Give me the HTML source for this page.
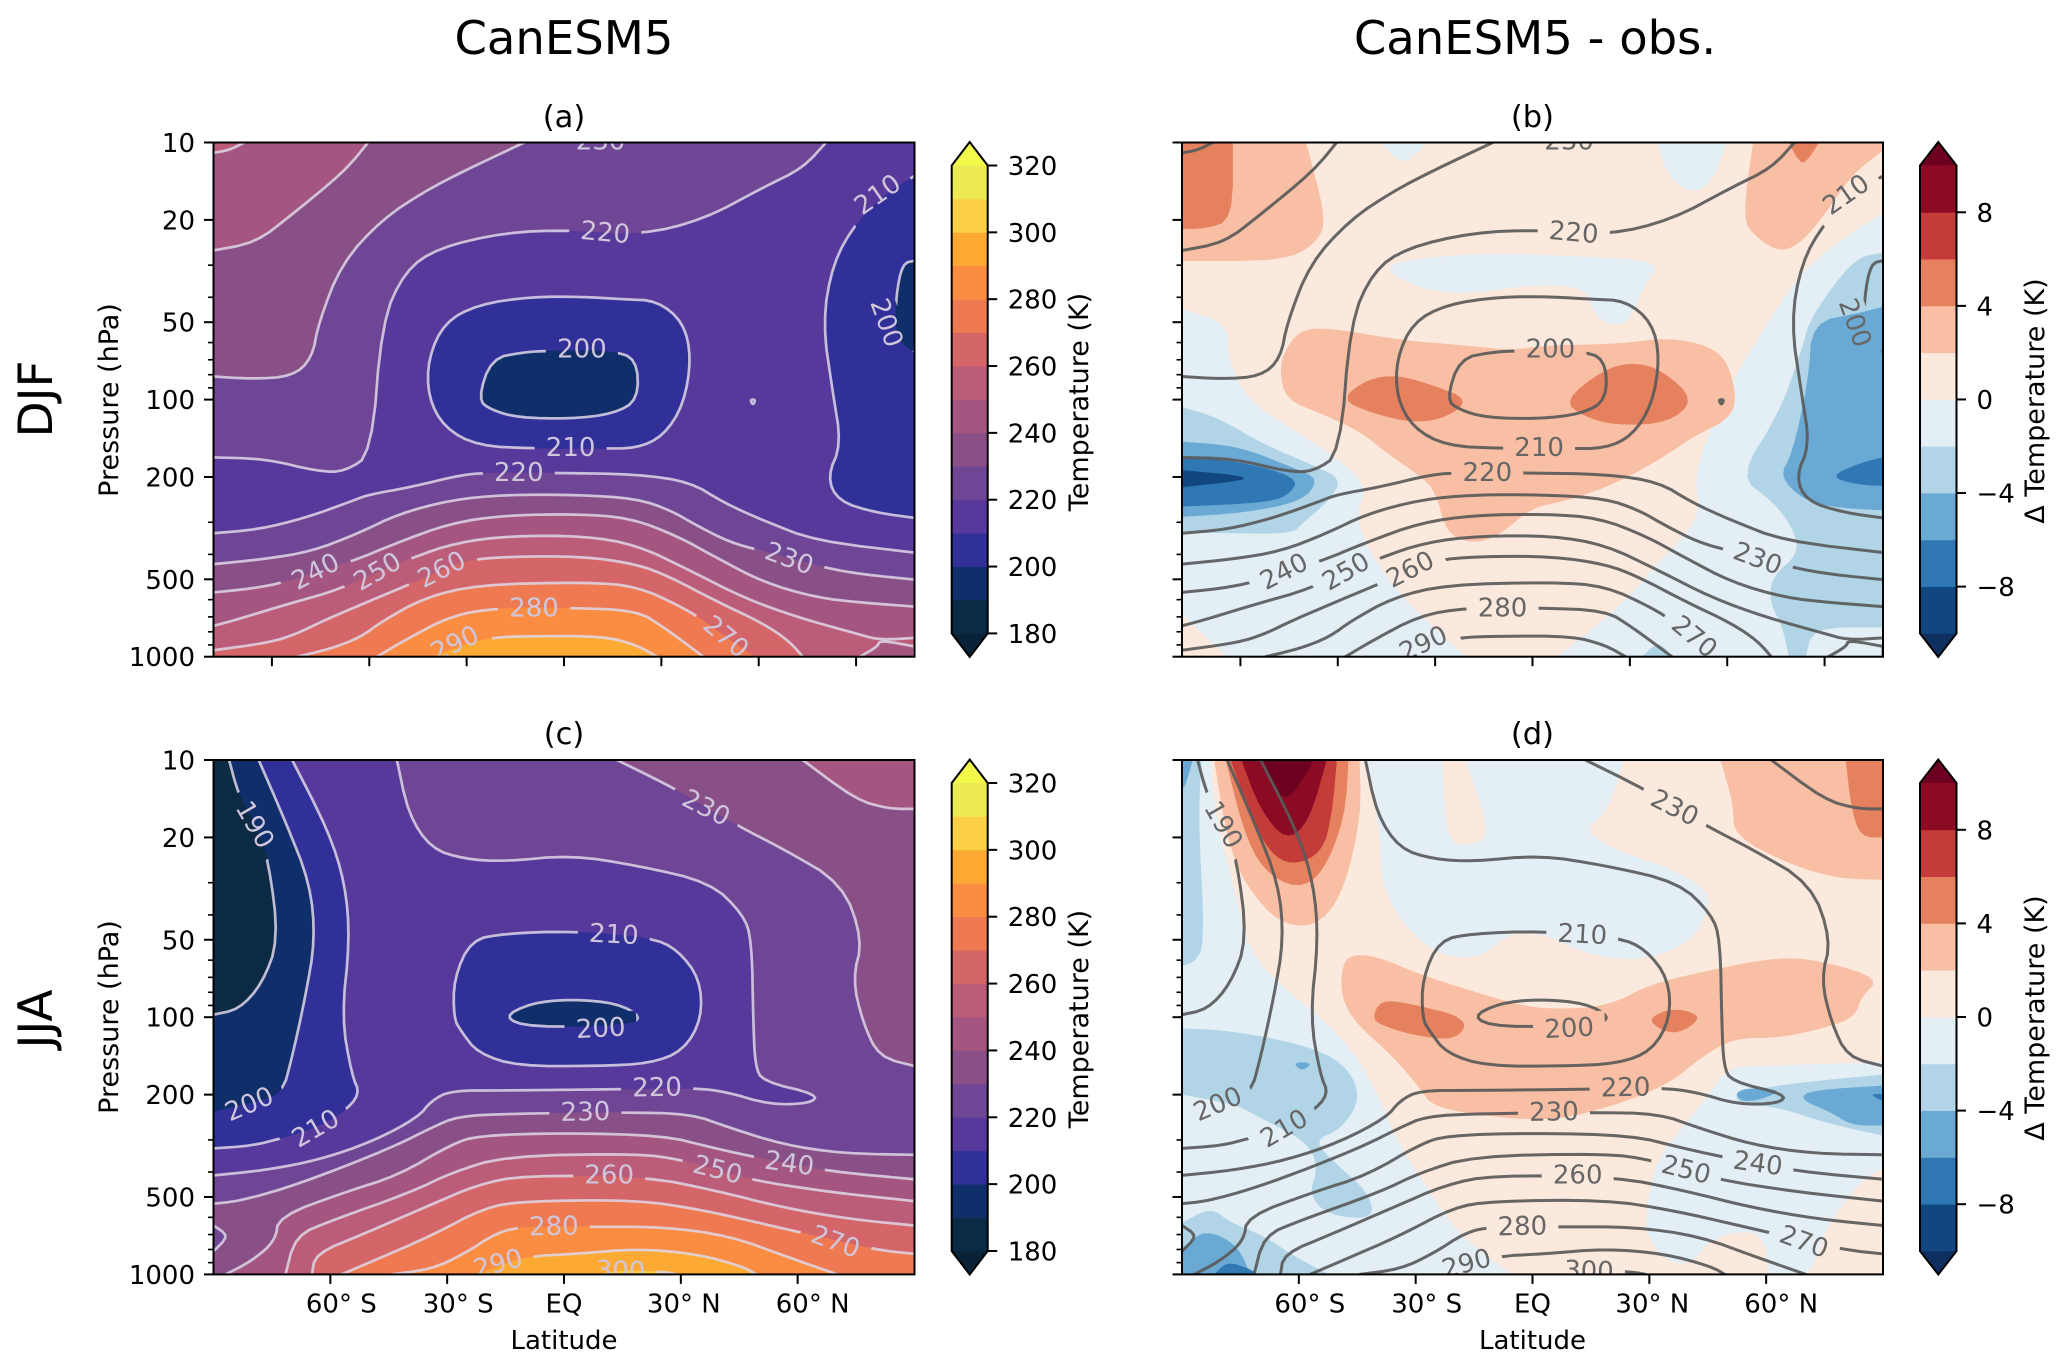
<!DOCTYPE html>
<html lang="en">
<head>
<meta charset="utf-8">
<title>CanESM5 zonal mean temperature</title>
<style>
html,body{margin:0;padding:0;background:#fff;}
svg{display:block;font-family:"DejaVu Sans","Liberation Sans",sans-serif;}
</style>
</head>
<body>
<svg id="figure" width="2067" height="1366" viewBox="0 0 2067 1366">
  <rect x="0" y="0" width="2067" height="1366" fill="#ffffff"/>
  <text x="564" y="54" font-size="46.5" text-anchor="middle">CanESM5</text>
  <text x="1535" y="54" font-size="46.5" text-anchor="middle">CanESM5 - obs.</text>
  <text transform="translate(52,399) rotate(-90)" font-size="47" text-anchor="middle">DJF</text>
  <text transform="translate(52,1019) rotate(-90)" font-size="47" text-anchor="middle">JJA</text>
  <text x="564" y="127" font-size="30.5" text-anchor="middle">(a)</text>
  <text x="1532.5" y="127" font-size="30.5" text-anchor="middle">(b)</text>
  <text x="564" y="744" font-size="30.5" text-anchor="middle">(c)</text>
  <text x="1532.5" y="744" font-size="30.5" text-anchor="middle">(d)</text>
  <text transform="translate(118,400) rotate(-90)" font-size="27" text-anchor="middle">Pressure (hPa)</text>
  <text transform="translate(118,1017) rotate(-90)" font-size="27" text-anchor="middle">Pressure (hPa)</text>
  <text x="564" y="1349" font-size="26" text-anchor="middle">Latitude</text>
  <text x="1532.5" y="1349" font-size="26" text-anchor="middle">Latitude</text>
  <text transform="translate(1088,402) rotate(-90)" font-size="27" text-anchor="middle">Temperature (K)</text>
  <text transform="translate(1088,1019) rotate(-90)" font-size="27" text-anchor="middle">Temperature (K)</text>
  <text transform="translate(2044,401) rotate(-90)" font-size="27" text-anchor="middle">Δ Temperature (K)</text>
  <text transform="translate(2044,1018) rotate(-90)" font-size="27" text-anchor="middle">Δ Temperature (K)</text>
</svg>
<script>
/* All contour and region vertices are [latitude in degrees, log10 of pressure in hPa]. */

/* ---------- colour scales ---------- */
const tempLevels=[180,190,200,210,220,230,240,250,260,270,280,290,300,310];
const tempColors=['#0c2a44','#102f6a','#312f98','#56399a','#6f4595','#895088','#a45680','#bb5d78','#d4666a','#ef7a52','#fb8d42','#fdaa35','#fbd044','#ecea52'];
const tempTicks=[180,200,220,240,260,280,300,320];
const anomalyLevels=[-10,-8,-6,-4,-2,0,2,4,6,8];
const anomalyColors=['#114781','#2f78b4','#6aa9d3','#b1d5e7','#e4eef5','#fbe9de','#f8bfa4','#e6815f','#c43c3a','#8b0a24'];
const anomalyTicks=[-8,-4,0,4,8];

/* ---------- axis ticks ---------- */
const pressureMajor=[10,20,50,100,200,500,1000];
const pressureMinor=[30,40,60,70,80,90,300,400,600,700,800,900];
const latTicksTop=[-75,-50,-25,0,25,50,75];
const latTicksBottom=[-60,-30,0,30,60];
const latTickLabels=['60° S','30° S','EQ','30° N','60° N'];
const latLabelNudge=[11,11,0,3,15];

/* ---------- DJF temperature contours ---------- */
const djfT250top=[[-90,1.04],[-86,1.03],[-82.1,1]];
const djfT240top=[[-50.3,1],[-56.2,1.11],[-69.8,1.28],[-79.2,1.39],[-90,1.42]];
const djfT230top=[[-90,1.91],[-80.1,1.92],[-69.8,1.91],[-64.7,1.84],[-63,1.70],[-57.1,1.47],[-46.8,1.30],[-35.8,1.19],[-25.6,1.11],[-10.2,1]];
const djfT220top=[[-90,2.225],[-76.7,2.23],[-63,2.28],[-56.2,2.28],[-49.4,2.21],[-46.8,1.70],[-40.9,1.50],[-32.4,1.41],[-15.3,1.35],[1.7,1.34],[19.6,1.36],[35.8,1.30],[51.1,1.175],[61.3,1.10],[67.3,1]];
const djfT210right=[[90,1.13],[83.5,1.19],[75,1.31],[69,1.47],[66.4,1.70],[69,1.97],[71.2,2.175],[67.6,2.30],[70.4,2.395],[80.1,2.44],[90,2.46]];
const djfT200right=[[90,1.46],[86.9,1.47],[85.2,1.60],[85.2,1.75],[88.9,1.81],[90,1.81]];
const djfT210mid=[[-30.7,1.70],[-22.1,1.63],[-8.5,1.60],[5.1,1.60],[15.3,1.61],[23.9,1.615],[30.7,1.70],[32.7,1.84],[30.7,2.02],[25.6,2.14],[18.7,2.19],[8.5,2.19],[-7.7,2.19],[-22.1,2.18],[-30.7,2.11],[-34.9,1.99],[-34.9,1.84]];
const djfT200mid=[[-18.7,1.84],[-10.2,1.815],[-3.4,1.81],[11.9,1.81],[18.7,1.84],[19.1,2.0],[12.8,2.055],[1.7,2.075],[-11.9,2.07],[-18.7,2.04],[-22.1,2.0]];
const djfT220low=[[-90,2.52],[-78.4,2.505],[-66.4,2.46],[-54.5,2.395],[-50.3,2.37],[-39.2,2.34],[-25.6,2.29],[-17.9,2.285],[-2.6,2.285],[18.7,2.29],[32.4,2.32],[40.9,2.40],[51.1,2.47],[64.7,2.55],[90,2.595]];
const djfT230low=[[-90,2.64],[-76.7,2.62],[-64.7,2.59],[-52.8,2.52],[-42.6,2.445],[-29,2.39],[-15.3,2.37],[3.4,2.37],[18.7,2.385],[27.3,2.43],[34.1,2.49],[42.6,2.555],[51.1,2.59],[67.3,2.655],[76.7,2.68],[90,2.70]];
const djfT240low=[[-90,2.75],[-80.1,2.735],[-71.5,2.71],[-54.5,2.63],[-42.6,2.555],[-29,2.48],[-15.3,2.45],[3.4,2.445],[17,2.46],[29,2.53],[39.2,2.615],[51.1,2.71],[64.7,2.77],[76.7,2.79],[90,2.805]];
const djfT250low=[[-90,2.88],[-85,2.86],[-69.8,2.79],[-57.9,2.74],[-39.2,2.615],[-27.3,2.555],[-13.6,2.53],[5.1,2.53],[18.7,2.565],[32.4,2.665],[46,2.77],[59.6,2.845],[75,2.91],[80.9,2.935],[90,2.927]];
const djfT260=[[-90,2.975],[-75.5,2.945],[-68.5,2.91],[-61.8,2.86],[-49.4,2.78],[-38.3,2.71],[-25.6,2.625],[-13.6,2.61],[5.1,2.61],[18.7,2.64],[27.3,2.69],[39.2,2.785],[51.1,2.87],[57.9,2.94],[61.3,3]];
const djfT270=[[-68.5,3],[-60.1,2.97],[-52.3,2.925],[-46.5,2.86],[-35.8,2.77],[-22.1,2.72],[5.1,2.71],[18.7,2.725],[30.7,2.81],[35.8,2.86],[47.7,2.99],[49.4,3]];
const djfT280=[[-48,3],[-41.4,2.94],[-29,2.84],[-17,2.81],[1.7,2.81],[18.7,2.82],[25.6,2.885],[35.8,3]];
const djfT290=[[-34,3],[-25.6,2.955],[-18.7,2.925],[-8.5,2.92],[10.2,2.92],[18.7,2.955],[23.9,3]];
const djfPatch250=[[76,3],[80.6,2.96],[81.1,2.935],[90,2.96],[90,3]];
const djfDot=[[47.8,2.0],[49.2,2.0],[48.5,2.022]];

const djfStack=[
 {level:220,pts:djfT220top,close:['TL']},
 {level:230,pts:djfT230top,close:['TL']},
 {level:240,pts:djfT240top,close:['TL']},
 {level:250,pts:djfT250top,close:['TL']},
 {level:200,pts:djfT210right,close:[]},
 {level:190,pts:djfT200right,close:[]},
 {level:200,pts:djfT210mid,close:[],ring:true},
 {level:190,pts:djfT200mid,close:[],ring:true},
 {level:220,pts:djfT220low,close:['BR','BL']},
 {level:230,pts:djfT230low,close:['BR','BL']},
 {level:240,pts:djfT240low,close:['BR','BL']},
 {level:250,pts:djfT250low,close:['BR','BL']},
 {level:260,pts:djfT260,close:['BL']},
 {level:270,pts:djfT270,close:[]},
 {level:280,pts:djfT280,close:[]},
 {level:290,pts:djfT290,close:[]},
 {level:240,pts:djfPatch250,close:[]},
 {level:200,pts:djfDot,close:[],ring:true}
];
const djfBase=210;
const djfLabels=[
 {value:230,lat:9.4,logP:0.99,angle:0,on:null},
 {value:220,lat:10.6,logP:1.347,angle:5,on:djfT220top},
 {value:210,lat:80.4,logP:1.2,angle:-35,on:djfT210right},
 {value:200,lat:83,logP:1.70,angle:70,on:djfT200right},
 {value:200,lat:4.6,logP:1.80,angle:0,on:djfT200mid},
 {value:210,lat:1.7,logP:2.183,angle:0,on:djfT210mid},
 {value:220,lat:-11.6,logP:2.28,angle:0,on:djfT220low},
 {value:240,lat:-63.9,logP:2.666,angle:-27,on:djfT240low},
 {value:250,lat:-48,logP:2.666,angle:-30,on:djfT250low},
 {value:260,lat:-31.5,logP:2.658,angle:-27,on:djfT260},
 {value:230,lat:57.9,logP:2.615,angle:20,on:djfT230low},
 {value:280,lat:-7.7,logP:2.807,angle:0,on:djfT280},
 {value:290,lat:-28.1,logP:2.946,angle:-25,on:djfT290},
 {value:270,lat:41.7,logP:2.92,angle:40,on:djfT270}
];

/* ---------- JJA temperature contours ---------- */
const jjaT190=[[-86,1],[-83.5,1.14],[-79.2,1.25],[-75.8,1.395],[-73.3,1.70],[-77.5,1.87],[-83.5,1.97],[-90,1.99]];
const jjaT200=[[-78.4,1],[-71.5,1.24],[-65.2,1.48],[-63.9,1.70],[-66.4,1.92],[-69.8,2.155],[-72.4,2.30],[-80.9,2.335],[-90,2.365]];
const jjaT210=[[-69.8,1],[-60.5,1.275],[-56.2,1.48],[-55,1.70],[-57.1,2.0],[-54.5,2.225],[-52.3,2.30],[-57.1,2.375],[-63.9,2.43],[-72.4,2.47],[-80.1,2.50],[-90,2.51]];
const jjaT220=[[-42.9,1],[-40,1.21],[-34.1,1.345],[-25.6,1.385],[-15.3,1.395],[1.7,1.37],[18.7,1.41],[37.5,1.475],[46,1.60],[48.2,1.70],[48.6,2.02],[49.1,2.19],[51.1,2.25],[65.1,2.30],[63.4,2.335],[52.8,2.34],[41.7,2.29],[33.2,2.275],[14.5,2.28],[-15.3,2.285],[-29,2.285],[-34.1,2.325],[-37.5,2.39],[-49.4,2.485],[-63,2.555],[-76.7,2.595],[-90,2.615]];
const jjaT230top=[[13.6,1],[29,1.115],[45.1,1.26],[56.2,1.345],[71.5,1.48],[76.7,1.70],[74.1,1.85],[76.7,2.02],[80.9,2.155],[90,2.19]];
const jjaT240top=[[61.3,1],[75,1.155],[83.5,1.19],[90,1.19]];
const jjaT230low=[[-90,2.725],[-83.5,2.715],[-71.5,2.665],[-56.2,2.58],[-42.6,2.495],[-34.1,2.43],[-27.3,2.385],[-13.6,2.375],[15.3,2.37],[32.4,2.375],[42.6,2.43],[56.2,2.495],[71.5,2.53],[90,2.535]];
const jjaT240low=[[-86.9,3],[-80.4,2.95],[-74.1,2.87],[-73.3,2.775],[-56.2,2.68],[-42.6,2.615],[-29,2.495],[-22.1,2.46],[0,2.45],[25.6,2.46],[37.5,2.505],[47.7,2.54],[68.1,2.60],[90,2.63]];
const jjaT250=[[-71.5,3],[-69,2.85],[-59.6,2.79],[-39.2,2.68],[-29,2.605],[-15.3,2.54],[18.7,2.53],[30.7,2.555],[46.8,2.63],[68.1,2.68],[90,2.715]];
const jjaT260=[[-64.7,3],[-63.9,2.92],[-51.1,2.84],[-35.8,2.74],[-22.1,2.65],[-10.2,2.615],[21.3,2.62],[39.2,2.675],[56.2,2.74],[73.3,2.785],[90,2.81]];
const jjaT270=[[-57.1,3],[-49.4,2.95],[-34.1,2.85],[-20.4,2.74],[-10.2,2.715],[18.7,2.71],[35.8,2.75],[54.5,2.815],[80,2.905],[90,2.92]];
const jjaT280=[[-44.3,3],[-34.1,2.98],[-25.6,2.92],[-17,2.835],[-10.2,2.815],[6.8,2.815],[25.6,2.815],[42.6,2.85],[57.9,2.935],[70.2,3]];
const jjaT290=[[-22.1,3],[-10.2,2.93],[3.4,2.92],[18.7,2.90],[34.1,2.92],[46,2.97],[49.4,3]];
const jjaT300=[[8.5,3],[14.5,2.985],[25.6,2.99],[29,3]];
const jjaRing=[[-90,2.81],[-86,2.85],[-90,2.91]];
const jjaT210mid=[[-23.9,1.70],[-15.3,1.675],[1.7,1.665],[22.1,1.69],[29,1.735],[34.9,1.85],[35.4,2.005],[30.7,2.13],[22.1,2.18],[8.5,2.19],[-11.9,2.19],[-22.1,2.14],[-26.4,2.055],[-28.3,2.005],[-28.3,1.85]];
const jjaT200mid=[[-15.7,2.0],[-8.5,1.945],[1.7,1.93],[13.6,1.945],[20.1,2.0],[16.2,2.03],[-8.5,2.04]];

const jjaStack=[
 {level:210,pts:jjaT220,close:['TL']},
 {level:200,pts:jjaT210,close:['TL']},
 {level:190,pts:jjaT200,close:['TL']},
 {level:180,pts:jjaT190,close:['TL']},
 {level:200,pts:jjaT210mid,close:[],ring:true},
 {level:190,pts:jjaT200mid,close:[],ring:true},
 {level:230,pts:jjaT230top,close:['TR']},
 {level:240,pts:jjaT240top,close:['TR']},
 {level:230,pts:jjaT230low,close:['BR','BL']},
 {level:220,pts:jjaRing,close:[]},
 {level:240,pts:jjaT240low,close:['BR']},
 {level:250,pts:jjaT250,close:['BR']},
 {level:260,pts:jjaT260,close:['BR']},
 {level:270,pts:jjaT270,close:['BR']},
 {level:280,pts:jjaT280,close:[]},
 {level:290,pts:jjaT290,close:[]},
 {level:300,pts:jjaT300,close:[]}
];
const jjaBase=220;
const jjaLabels=[
 {value:190,lat:-79.2,logP:1.25,angle:60,on:jjaT190},
 {value:200,lat:-80.9,logP:2.335,angle:-23,on:jjaT200},
 {value:210,lat:-63.9,logP:2.43,angle:-30,on:jjaT210},
 {value:200,lat:9.4,logP:2.04,angle:-3,on:jjaT200mid},
 {value:210,lat:12.8,logP:1.675,angle:3,on:jjaT210mid},
 {value:220,lat:23.9,logP:2.27,angle:-1,on:jjaT220},
 {value:230,lat:5.5,logP:2.365,angle:-1,on:jjaT230low},
 {value:230,lat:36.6,logP:1.183,angle:27,on:jjaT230top},
 {value:240,lat:57.9,logP:2.565,angle:8,on:jjaT240low},
 {value:250,lat:39.5,logP:2.59,angle:14,on:jjaT250},
 {value:260,lat:11.6,logP:2.61,angle:0,on:jjaT260},
 {value:270,lat:69.8,logP:2.87,angle:20,on:jjaT270},
 {value:280,lat:-2.6,logP:2.81,angle:-1,on:jjaT280},
 {value:290,lat:-17,logP:2.955,angle:-15,on:jjaT290},
 {value:300,lat:14.5,logP:2.983,angle:2,on:jjaT300}
];

/* ---------- DJF model minus obs. anomaly regions ---------- */
const djfBiasBase=0;
const djfBiasRegions=[
 {level:-2,pts:[[90,1.275],[83.6,1.335],[73.5,1.445],[66.8,1.55],[60.1,1.71],[50.8,1.94],[45,2.14],[41.6,2.30],[43.3,2.46],[33.2,2.62],[21.5,2.82],[6.4,3],[90,3]]},
 {level:-2,pts:[[-90,1.65],[-78.4,1.70],[-78.4,1.835],[-73.3,2.005],[-59.1,2.14],[-47.3,2.26],[-42.8,2.345],[-45.6,2.46],[-40.6,2.63],[-30.5,2.82],[-17.1,3],[-78.4,3],[-90,2.835]]},
 {level:-2,pts:[[-39.4,1.48],[-25.5,1.445],[-8.7,1.43],[13.1,1.445],[33.2,1.46],[28.2,1.565],[24.8,1.70],[19.8,1.71],[15.6,1.665],[13.9,1.565],[1.3,1.55],[-17.1,1.59],[-28.9,1.57]]},
 {level:-2,pts:[[-38.9,1],[-27.2,1],[-31.4,1.07],[-34.7,1.07]]},
 {level:-2,pts:[[32,1],[49.7,1],[46.6,1.14],[41.6,1.20],[34.9,1.14]]},
 {level:2,pts:[[-90,1],[-58.2,1],[-52.9,1.30],[-55.7,1.395],[-64.1,1.46],[-90,1.46]]},
 {level:4,pts:[[-90,1],[-77,1],[-77,1.30],[-84.2,1.335],[-90,1.335]]},
 {level:2,pts:[[56.7,1],[90,1],[90,1.03],[81.9,1.125],[74.3,1.295],[68.5,1.395],[63.4,1.425],[57.6,1.37],[53.9,1.30]]},
 {level:4,pts:[[65.9,1],[73.5,1],[69.3,1.10]]},
 {level:-4,pts:[[-90,2.03],[-80.9,2.07],[-69.1,2.175],[-55.7,2.26],[-49,2.31],[-52.4,2.395],[-59.1,2.48],[-61.6,2.52],[-75.8,2.52],[-90,2.515]]},
 {level:-6,pts:[[-90,2.165],[-75.8,2.18],[-60.7,2.27],[-54.9,2.31],[-59.1,2.395],[-74.2,2.44],[-90,2.455]]},
 {level:-8,pts:[[-90,2.225],[-75.8,2.24],[-60.7,2.30],[-61.6,2.36],[-67.5,2.40],[-90,2.415]]},
 {level:-10,pts:[[-90,2.275],[-69.1,2.305],[-90,2.34]]},
 {level:-4,pts:[[90,1.43],[83.6,1.445],[76.8,1.565],[71,1.70],[69.3,1.80],[63.4,2.055],[53,2.30],[61.7,2.395],[66.8,2.495],[68.5,2.60],[61.7,2.685],[60.9,2.785],[64.3,2.885],[65.9,3],[70.1,3],[72,2.885],[90,2.885]]},
 {level:-4,pts:[[28.2,3],[32.4,2.94],[35.7,3]]},
 {level:-6,pts:[[90,1.64],[83.6,1.665],[71.8,1.70],[71,1.92],[66.8,2.21],[63.4,2.30],[70.1,2.395],[78.5,2.42],[90,2.43]]},
 {level:-8,pts:[[90,2.225],[83.6,2.25],[76.3,2.30],[83.6,2.33],[90,2.335]]},
 {level:2,pts:[[-63.3,1.80],[-59.1,1.725],[-50.7,1.725],[-33.9,1.77],[-17.1,1.79],[-5.4,1.81],[3,1.79],[21.5,1.785],[34.9,1.76],[45,1.79],[50,1.85],[52.5,2.0],[50,2.08],[41.6,2.14],[34.9,2.21],[26.5,2.285],[18.1,2.345],[8.1,2.395],[-0.3,2.42],[-8.7,2.53],[-15.4,2.56],[-22.1,2.52],[-24.7,2.36],[-28.9,2.295],[-37.2,2.21],[-44,2.125],[-54,2.055],[-63.3,2.0],[-64.9,1.885]]},
 {level:4,pts:[[-49.3,2.0],[-42.3,1.92],[-34.7,1.905],[-25.5,1.945],[-16.3,2.0],[-22.1,2.07],[-30.5,2.09],[-40.6,2.055]]},
 {level:4,pts:[[8.1,2.005],[18.1,1.885],[25.7,1.855],[33.2,1.885],[41.6,2.0],[34.9,2.09],[21.5,2.10],[13.1,2.065]]}
];

/* ---------- JJA model minus obs. anomaly regions ---------- */
const jjaBiasBase=0;
const jjaBiasRegions=[
 {level:-2,pts:[[-90,1],[-82.6,1],[-81.7,1.21],[-75.8,1.55],[-72.5,1.75],[-64.1,1.885],[-54,2.005],[-45.6,2.14],[-38.9,2.325],[-35.6,2.46],[-27.2,2.665],[-18.8,2.85],[-5.4,3],[-90,3]]},
 {level:-2,pts:[[-42.8,1],[-23.3,1],[-22.1,1.31],[-17.1,1.335],[-10.4,1.30],[-17.1,1],[23.2,1],[19.8,1.19],[11.4,1.30],[46.6,1.48],[43.3,1.665],[34.9,1.75],[24.8,1.78],[13.1,1.75],[1.3,1.665],[-7,1.68],[-12.1,1.76],[-22.1,1.77],[-32.2,1.665],[-38.9,1.48],[-38.9,1.295]]},
 {level:-2,pts:[[90,2.174],[60.1,2.19],[50,2.194],[45,2.31],[38.3,2.43],[32.4,2.546],[29.9,2.68],[29,2.835],[33.2,2.935],[39.9,2.97],[46.6,2.85],[59.2,2.825],[60.9,3],[70.1,3],[72.7,2.95],[75.2,2.815],[85.2,2.62],[90,2.59]]},
 {level:-4,pts:[[-90,1],[-85,1],[-85.9,1.21],[-84.2,1.715],[-86.7,1.785],[-90,1.80]]},
 {level:-6,pts:[[-90,1],[-87.3,1],[-89.3,1.105],[-90,1.105]]},
 {level:-4,pts:[[-90,2.045],[-79.2,2.05],[-59.1,2.105],[-48.2,2.18],[-44,2.31],[-49,2.435],[-56.5,2.48],[-49.8,2.58],[-42.3,2.68],[-40.6,2.785],[-52.4,2.77],[-57.4,2.69],[-54.9,2.58],[-58.2,2.48],[-70,2.39],[-75.8,2.34],[-90,2.30]]},
 {level:-6,pts:[[-61.6,2.177],[-56.5,2.177],[-59.1,2.21]]},
 {level:-4,pts:[[-90,2.80],[-82.6,2.74],[-77.5,2.80],[-69.1,2.85],[-60.7,2.935],[-52.4,3],[-90,3]]},
 {level:-6,pts:[[-90,2.90],[-84.2,2.825],[-75.8,2.885],[-72.5,3],[-90,3]]},
 {level:-8,pts:[[-81.7,3],[-78.4,2.95],[-72.5,2.98],[-70.8,3]]},
 {level:-4,pts:[[90,2.224],[65.1,2.26],[51.7,2.30],[53.4,2.335],[63.4,2.35],[75.2,2.41],[90,2.46]]},
 {level:-6,pts:[[90,2.267],[71.8,2.284],[68.5,2.317],[76.8,2.37],[81.9,2.42],[90,2.42]]},
 {level:-6,pts:[[51.7,2.30],[55,2.275],[65.1,2.284],[55,2.335]]},
 {level:-8,pts:[[90,2.30],[86.6,2.30],[90,2.325]]},
 {level:2,pts:[[-49,1.82],[-47.3,1.76],[-40.6,1.76],[-28.9,1.835],[-15.4,1.90],[-2,1.96],[8.1,1.97],[19.8,1.955],[29.9,1.875],[43.3,1.825],[63.4,1.765],[75.2,1.785],[89.1,1.85],[84.4,1.92],[82.7,2.0],[75.2,2.04],[63.4,2.08],[51.7,2.08],[43.3,2.155],[34.9,2.26],[21.5,2.34],[6.4,2.40],[-8.7,2.39],[-25.5,2.35],[-28.9,2.275],[-35.6,2.155],[-45.6,2.02],[-49,1.92]]},
 {level:4,pts:[[-41.1,2.0],[-38.9,1.935],[-32.2,1.945],[-16.3,2.005],[-19.6,2.09],[-30.5,2.07],[-38.9,2.03]]},
 {level:4,pts:[[29.9,2.005],[34.9,1.97],[39.9,1.975],[43.3,2.005],[37.4,2.065],[32.4,2.045]]},
 {level:2,pts:[[-81.7,1],[-77.5,1.38],[-69.1,1.58],[-61.6,1.65],[-54,1.63],[-48.2,1.495],[-44,1.21],[-44.5,1]]},
 {level:4,pts:[[-78.7,1],[-74.2,1.275],[-69.1,1.43],[-60.7,1.50],[-54,1.445],[-48.2,1.225],[-47.3,1]]},
 {level:6,pts:[[-77.5,1],[-72.5,1.21],[-67.5,1.36],[-61.6,1.41],[-54,1.36],[-51.5,1.21],[-50.3,1]]},
 {level:8,pts:[[-74.7,1],[-70,1.19],[-63.3,1.315],[-57.4,1.24],[-52.9,1]]},
 {level:10,pts:[[-70,1],[-64.1,1.18],[-57.4,1.04],[-56.5,1]]},
 {level:2,pts:[[48.3,1],[90,1],[90,1.465],[78.5,1.46],[66.8,1.41],[51.7,1.295],[51.7,1.175]]},
 {level:4,pts:[[80.5,1],[90,1],[90,1.30],[84.4,1.30],[81.9,1.19]]}
];

/* ---------- rendering ---------- */
const svg=document.getElementById('figure');
const SVGNS=svg.namespaceURI;
const CORNER={TL:[-90,1],TR:[90,1],BL:[-90,3],BR:[90,3]};
const TEMP_UNDER='#0a2238',TEMP_OVER='#f2f94a',BIAS_UNDER='#0f2f60',BIAS_OVER='#6d0020';
let uid=0;

function node(parent,tag,attrs){
  const el=document.createElementNS(SVGNS,tag);
  for(const k in attrs){el.setAttribute(k,attrs[k]);}
  parent.appendChild(el);
  return el;
}
function tempColor(level){return tempColors[tempLevels.indexOf(level)];}
function biasColor(level){
  if(level>=10){return BIAS_OVER;}
  return anomalyColors[anomalyLevels.indexOf(level)];
}
/* Rounds interior vertices by corner cutting; vertices on the axes border stay put. */
function onBorder(p){return Math.abs(p[0])>=90||p[1]<=1||p[1]>=3;}
function cutCorners(points,closed){
  const out=[];
  const n=points.length;
  points.forEach(function(p,i){
    const isEnd=!closed&&(i===0||i===n-1);
    if(isEnd||onBorder(p)){out.push(p);return;}
    const a=points[(i-1+n)%n],b=points[(i+1)%n];
    out.push([p[0]+(a[0]-p[0])*0.25,p[1]+(a[1]-p[1])*0.25]);
    out.push([p[0]+(b[0]-p[0])*0.25,p[1]+(b[1]-p[1])*0.25]);
  });
  return out;
}
function smooth(points,closed){return cutCorners(cutCorners(points,closed),closed);}
function pathOf(points,sx,sy,closed){
  let d='';
  points.forEach(function(p,i){d+=(i?'L':'M')+sx(p[0]).toFixed(2)+' '+sy(p[1]).toFixed(2);});
  return d+(closed?'Z':'');
}
function drawAxes(name,box,majorLabels,latTicks,latLabels){
  const sx=function(lat){return box.x+(lat+90)/180*box.w;};
  const sy=function(logP){return box.y+(logP-1)/2*box.h;};
  const g=node(svg,'g',{stroke:'#000','stroke-width':2});
  
  
  pressureMajor.forEach(function(p){
    const y=sy(Math.log10(p));
    const t=node(g,'line',{x1:box.x-9.5,x2:box.x,y1:y,y2:y});
    
    
    if(majorLabels){
      const s=node(g,'text',{x:box.x-18.5,y:y+9.5,'font-size':26,'text-anchor':'end',stroke:'none',fill:'#000'});
      s.textContent=String(p);
      
      
    }
  });
  pressureMinor.forEach(function(p){
    const y=sy(Math.log10(p));
    const t=node(g,'line',{x1:box.x-5.5,x2:box.x,y1:y,y2:y,'stroke-width':1.6});
    
    
  });
  latTicks.forEach(function(lat,i){
    const x=sx(lat);
    const t=node(g,'line',{x1:x,x2:x,y1:box.y+box.h,y2:box.y+box.h+9.5});
    
    
    if(latLabels){
      const s=node(g,'text',{x:x+latLabelNudge[i],y:box.y+box.h+38,'font-size':26,'text-anchor':'middle',stroke:'none',fill:'#000'});
      s.textContent=latLabels[i];
      
      
    }
  });
  const frame=node(g,'rect',{x:box.x,y:box.y,width:box.w,height:box.h,fill:'none'});
  
  
}
function drawPanel(name,box,opt){
  const sx=function(lat){return box.x+(lat+90)/180*box.w;};
  const sy=function(logP){return box.y+(logP-1)/2*box.h;};
  const clipId='clip'+(++uid);
  const defs=node(svg,'defs',{});
  const clip=node(defs,'clipPath',{id:clipId});
  node(clip,'rect',{x:box.x,y:box.y,width:box.w,height:box.h});
  const plot=node(svg,'g',{'clip-path':'url(#'+clipId+')'});
  
  

  /* filled regions */
  const base=node(plot,'rect',{x:box.x,y:box.y,width:box.w,height:box.h,fill:opt.baseColor});
  
  
  opt.regions.forEach(function(r){
    const shut=!r.close||!!r.ring;
    const pts=smooth(r.pts,shut).concat((r.close||[]).map(function(c){return CORNER[c];}));
    const f=node(plot,'path',{d:pathOf(pts,sx,sy,true),fill:opt.fillColor(r.level),stroke:opt.fillColor(r.level),'stroke-width':0.5});
    
    
  });

  /* temperature contour lines, gapped under their labels */
  opt.stack.forEach(function(c){
    const own=opt.labels.filter(function(l){return l.on===c.pts;});
    const attrs={d:pathOf(smooth(c.pts,!!c.ring),sx,sy,!!c.ring),fill:'none',stroke:opt.lineColor,'stroke-width':opt.lineWidth,'stroke-linejoin':'round','stroke-linecap':'round','stroke-opacity':opt.lineOpacity};
    if(own.length){
      const maskId='gap'+(++uid);
      const mask=node(defs,'mask',{id:maskId,maskUnits:'userSpaceOnUse',x:0,y:0,width:2067,height:1366});
      node(mask,'rect',{x:0,y:0,width:2067,height:1366,fill:'#fff'});
      own.forEach(function(l){
        node(mask,'rect',{x:-36,y:-15,width:72,height:30,fill:'#000',transform:'translate('+sx(l.lat)+','+sy(l.logP)+') rotate('+l.angle+')'});
      });
      attrs.mask='url(#'+maskId+')';
    }
    const line=node(plot,'path',attrs);
    
    
  });
  opt.labels.forEach(function(l){
    const t=node(plot,'text',{'font-size':26,'text-anchor':'middle',fill:opt.labelColor,dy:'0.36em',transform:'translate('+sx(l.lat)+','+sy(l.logP)+') rotate('+l.angle+')'});
    t.textContent=String(l.value);
    
    
  });
}
function drawColorbar(name,box,levels,colors,step,min,max,ticks,under,over){
  const sv=function(v){return box.bottom-(v-min)/(max-min)*(box.bottom-box.top);};
  const g=node(svg,'g',{});
  
  
  const cx=box.x+box.w/2;
  const up=node(g,'path',{d:'M'+box.x+' '+box.top+'L'+cx+' '+box.tipTop+'L'+(box.x+box.w)+' '+box.top+'Z',fill:over});
  
  
  const low=node(g,'path',{d:'M'+box.x+' '+box.bottom+'L'+cx+' '+box.tipBottom+'L'+(box.x+box.w)+' '+box.bottom+'Z',fill:under});
  
  
  levels.forEach(function(v,i){
    const b=node(g,'rect',{x:box.x,y:sv(v+step),width:box.w,height:sv(v)-sv(v+step)+0.4,fill:colors[i]});
    
    
  });
  const r=box.x+box.w;
  const outline=node(g,'path',{d:'M'+box.x+' '+box.top+'L'+cx+' '+box.tipTop+'L'+r+' '+box.top+'L'+r+' '+box.bottom+'L'+cx+' '+box.tipBottom+'L'+box.x+' '+box.bottom+'Z',fill:'none',stroke:'#000','stroke-width':2});
  
  
  ticks.forEach(function(v){
    const y=sv(v);
    const t=node(g,'line',{x1:r,x2:r+9.5,y1:y,y2:y,stroke:'#000','stroke-width':2});
    
    
    const s=node(g,'text',{x:r+20,y:y+9.5,'font-size':26});
    s.textContent=v<0?'\u2212'+Math.abs(v):String(v);
    
    
  });
}

const boxA={x:213.5,y:142.5,w:701,h:514.2};
const boxB={x:1182,y:142.5,w:701,h:514.2};
const boxC={x:213.5,y:760,w:701,h:514.4};
const boxD={x:1182,y:760,w:701,h:514.4};

function tempPanel(name,box,stack,baseLevel,labels){
  drawPanel(name,box,{
    baseColor:tempColor(baseLevel),fillColor:tempColor,
    regions:stack,stack:stack,labels:labels,
    lineColor:'#ded6e6',lineWidth:2.7,lineOpacity:0.85,labelColor:'#cfc6dc'
  });
}
function biasPanel(name,box,regions,baseLevel,stack,labels){
  drawPanel(name,box,{
    baseColor:biasColor(baseLevel),fillColor:biasColor,
    regions:regions,stack:stack,labels:labels,
    lineColor:'#5a5a5a',lineWidth:3,lineOpacity:0.92,labelColor:'#666666'
  });
}
tempPanel('panel-a',boxA,djfStack,djfBase,djfLabels);
biasPanel('panel-b',boxB,djfBiasRegions,djfBiasBase,djfStack,djfLabels);
tempPanel('panel-c',boxC,jjaStack,jjaBase,jjaLabels);
biasPanel('panel-d',boxD,jjaBiasRegions,jjaBiasBase,jjaStack,jjaLabels);

drawAxes('panel-a',boxA,true,latTicksTop,null);
drawAxes('panel-b',boxB,false,latTicksTop,null);
drawAxes('panel-c',boxC,true,latTicksBottom,latTickLabels);
drawAxes('panel-d',boxD,false,latTicksBottom,latTickLabels);

drawColorbar('panel-a',{x:951.7,w:36,top:165.5,bottom:633.4,tipTop:142,tipBottom:657},tempLevels,tempColors,10,180,320,tempTicks,TEMP_UNDER,TEMP_OVER);
drawColorbar('panel-c',{x:951.7,w:36,top:783,bottom:1251,tipTop:759.5,tipBottom:1274.5},tempLevels,tempColors,10,180,320,tempTicks,TEMP_UNDER,TEMP_OVER);
drawColorbar('panel-b',{x:1920,w:36.5,top:165.5,bottom:633.4,tipTop:142,tipBottom:657},anomalyLevels,anomalyColors,2,-10,10,anomalyTicks,BIAS_UNDER,BIAS_OVER);
drawColorbar('panel-d',{x:1920,w:36.5,top:783,bottom:1251,tipTop:759.5,tipBottom:1274.5},anomalyLevels,anomalyColors,2,-10,10,anomalyTicks,BIAS_UNDER,BIAS_OVER);
</script>
</body>
</html>
